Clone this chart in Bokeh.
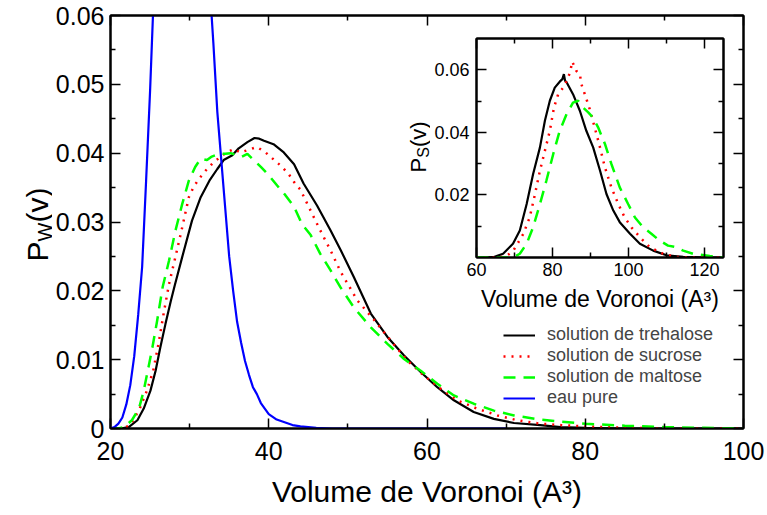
import math
from bokeh.plotting import figure
from bokeh.models import FixedTicker, LinearAxis, Legend, LegendItem, Range1d
from bokeh.core.properties import value
from bokeh.embed import file_html
from bokeh.resources import INLINE

FONT = "Liberation Sans"
FONT_VALUE = value(FONT)

# ---------------- data: main panel (water molecules) ----------------
x_ticks_main = [20, 40, 60, 80, 100]
x_minor_main = [30, 50, 70, 90]
y_ticks_main = [0, 0.01, 0.02, 0.03, 0.04, 0.05, 0.06]
y_minor_main = [0.005, 0.015, 0.025, 0.035, 0.045, 0.055]

treh_v = [20.0, 21.3, 22.3, 23.4, 24.2, 25.05, 25.7, 26.3, 26.95, 27.6, 28.1, 29.06, 30.3, 31.4,
          32.5, 33.5, 34.3, 35.4, 36.2, 37.3, 38.2, 38.8, 39.4, 40.6, 41.9, 43.2, 44.4, 46.1,
          47.8, 49.1, 50.75, 52.9, 55.0, 57.1, 59.2, 61.3, 63.4, 65.9, 68.45, 71.0, 74.3, 76.9,
          80.0, 85.0, 100.0]
treh_p = [0.0, 0.0, 0.0002, 0.0012, 0.0029, 0.0055, 0.0084, 0.0118, 0.0152, 0.0184, 0.0207,
          0.0249, 0.0302, 0.0336, 0.0360, 0.0377, 0.0390, 0.0397, 0.0407, 0.0416, 0.0422, 0.0421,
          0.0418, 0.0413, 0.0401, 0.0384, 0.0356, 0.0324, 0.0288, 0.0259, 0.0220, 0.0167, 0.0133,
          0.0106, 0.0082, 0.0060, 0.0041, 0.0024, 0.0014, 0.0008, 0.0005, 0.0002, 0.0001, 0.0,
          0.0]

sucr_v = [20.0, 21.5, 22.5, 23.7, 24.6, 25.4, 26.1, 26.7, 27.4, 28.2, 29.06, 29.9, 30.5, 31.2,
          32.2, 33.06, 34.5, 35.6, 36.4, 37.5, 38.5, 39.6, 40.4, 41.5, 42.5, 43.2, 44.0, 45.1,
          46.5, 47.8, 49.07, 51.2, 53.3, 55.4, 57.5, 59.6, 61.7, 63.8, 66.3, 68.9, 71.4, 74.3,
          76.9, 80.0, 85.0, 90.0, 100.0]
sucr_p = [0.0, 0.0, 0.0005, 0.0029, 0.0055, 0.0084, 0.0125, 0.0166, 0.0210, 0.0249, 0.0292,
          0.0336, 0.0351, 0.0363, 0.0377, 0.0387, 0.0400, 0.0406, 0.0401, 0.0405, 0.0409, 0.0401,
          0.0393, 0.0382, 0.0370, 0.0358, 0.0347, 0.0321, 0.0288, 0.0259, 0.0228, 0.0186, 0.0158,
          0.0128, 0.0099, 0.0077, 0.0058, 0.0041, 0.0029, 0.0019, 0.0012, 0.0007, 0.0005, 0.0003,
          0.0001, 0.0, 0.0]

malt_v = [20.0, 21.0, 21.7, 22.7, 23.6, 24.2, 24.8, 25.3, 25.9, 26.6, 27.4, 28.2, 29.06, 29.9,
          30.7, 31.4, 32.2, 32.8, 33.7, 34.5, 35.2, 36.0, 36.6, 37.3, 38.1, 39.0, 40.0, 41.06,
          42.1, 43.2, 44.2, 45.3, 46.5, 47.8, 49.07, 50.75, 52.9, 55.0, 57.1, 59.2, 61.3, 63.4,
          65.9, 68.45, 71.0, 74.3, 76.9, 80.0, 85.0, 90.0, 95.0, 100.0]
malt_p = [0.0, 0.0, 0.0002, 0.0012, 0.0029, 0.0055, 0.0089, 0.0118, 0.0157, 0.0206, 0.0244,
          0.0287, 0.0326, 0.0360, 0.0380, 0.0392, 0.0390, 0.0395, 0.0399, 0.0399, 0.0400, 0.0397,
          0.0395, 0.0399, 0.0390, 0.0380, 0.0368, 0.0353, 0.0339, 0.0322, 0.0297, 0.0281, 0.0254,
          0.0230, 0.0205, 0.0176, 0.0147, 0.0123, 0.0101, 0.0084, 0.0065, 0.0048, 0.0036, 0.0026,
          0.0019, 0.0013, 0.0010, 0.0007, 0.0004, 0.0002, 0.0001, 0.0]

eau_v = [20.0, 20.5, 21.0, 21.5, 22.0, 22.5, 23.0, 23.5, 24.0, 24.5, 25.0, 25.5, 26.0, 26.5,
         27.0, 28.0, 29.0, 30.0, 31.0, 32.0, 32.5, 33.0, 33.5, 34.0, 34.5, 35.0, 35.5, 36.0,
         36.5, 37.0, 37.5, 38.0, 38.5, 39.0, 40.0, 41.0, 42.0, 43.0, 44.0, 45.0, 46.0, 48.0,
         55.0, 70.0]
eau_p = [0.0, 0.0002, 0.0007, 0.0016, 0.0035, 0.0063, 0.0105, 0.0165, 0.0235, 0.036, 0.049,
         0.064, 0.078, 0.090, 0.100, 0.112, 0.116, 0.112, 0.098, 0.075, 0.065, 0.056, 0.046,
         0.039, 0.032, 0.025, 0.020, 0.0155, 0.0125, 0.0098, 0.0078, 0.006, 0.005, 0.0037,
         0.0021, 0.0013, 0.0009, 0.0005, 0.0003, 0.0002, 0.0001, 0.0, 0.0, 0.0]

# ---------------- data: inset (sugar molecules) ----------------
x_ticks_in = [60, 80, 100, 120]
x_minor_in = [70, 90, 110]
y_ticks_in = [0.02, 0.04, 0.06]
y_minor_in = [0.01, 0.03, 0.05]

treh_s_v = [60.0, 64.4, 67.0, 69.6, 71.4, 73.2, 74.9, 76.7, 78.0, 79.3, 80.6, 81.9, 82.6, 83.0,
            83.3, 83.7, 85.4, 87.2, 88.9, 90.7, 92.5, 94.2, 96.0, 97.7, 100.4, 103.0, 106.5,
            110.0, 114.4, 121.4, 125.0]
treh_s_p = [0.0, 0.0001, 0.0012, 0.0044, 0.0086, 0.0171, 0.0267, 0.0352, 0.0437, 0.0501, 0.0543,
            0.0562, 0.0570, 0.0586, 0.0565, 0.0560, 0.0522, 0.0469, 0.0405, 0.0352, 0.0278,
            0.0203, 0.0150, 0.0113, 0.0076, 0.0044, 0.0022, 0.0007, 0.0002, 0.0, 0.0]

sucr_s_v = [60.0, 66.0, 68.0, 69.6, 72.3, 74.0, 75.4, 76.7, 78.0, 79.3, 80.4, 81.5, 83.2, 84.6,
            85.2, 86.3, 87.2, 87.6, 88.5, 89.8, 91.1, 92.5, 93.8, 95.5, 97.3, 99.0, 100.8, 103.0,
            105.6, 109.1, 112.6, 117.0, 125.0]
sucr_s_p = [0.0, 0.0, 0.0006, 0.0020, 0.0075, 0.0128, 0.0203, 0.0278, 0.0341, 0.0405, 0.0480,
            0.0522, 0.0549, 0.0591, 0.0626, 0.0596, 0.0586, 0.0554, 0.0522, 0.0474, 0.0416,
            0.0352, 0.0288, 0.0224, 0.0171, 0.0128, 0.0096, 0.0065, 0.0033, 0.0012, 0.0002, 0.0,
            0.0]

malt_s_v = [60.0, 69.6, 71.4, 73.2, 74.9, 76.7, 78.4, 80.2, 81.9, 83.7, 85.4, 86.75, 88.1, 89.4,
            90.7, 92.0, 93.8, 95.5, 97.7, 99.9, 101.7, 103.9, 106.1, 108.2, 110.4, 112.6, 114.4,
            117.0, 121.4, 125.0]
malt_s_p = [0.0, 0.0, 0.0012, 0.0044, 0.0097, 0.0171, 0.0246, 0.0331, 0.0405, 0.0458, 0.0495,
            0.0501, 0.0479, 0.0464, 0.0447, 0.0416, 0.0363, 0.0299, 0.0224, 0.0171, 0.0128,
            0.0096, 0.0075, 0.0054, 0.0038, 0.0033, 0.0022, 0.0012, 0.0005, 0.0]

legend_labels = ["solution de trehalose", "solution de sucrose", "solution de maltose", "eau pure"]
x_title = "Volume de Voronoi (A\u00b3)"
y_title_main = ["P", "W", "(v)"]
y_title_inset = ["P", "S", "(v)"]


def style_axis(ax, ticks, minor, font_size, standoff, show_labels=True, tick_len=10, minor_len=5):
    ax.ticker = FixedTicker(ticks=ticks, minor_ticks=minor)
    ax.major_tick_in = tick_len
    ax.major_tick_out = 0
    ax.minor_tick_in = minor_len
    ax.minor_tick_out = 0
    ax.major_tick_line_width = 1.5
    ax.minor_tick_line_width = 1.5
    ax.major_tick_line_color = "black"
    ax.minor_tick_line_color = "black"
    ax.axis_line_width = 2
    ax.axis_line_color = "black"
    ax.major_label_text_font = FONT
    ax.major_label_standoff = standoff
    if show_labels:
        ax.major_label_text_font_size = font_size
        ax.major_label_text_color = "black"
    else:
        ax.major_label_text_font_size = "0px"
        ax.major_label_text_color = None
        ax.major_label_standoff = 0


def title_panel(left, top, w, h, pieces, sizes, xs, ys):
    """Small transparent figure overlaid on the page, holding a rotated axis title."""
    t = figure(width=w, height=h, x_range=Range1d(0, w), y_range=Range1d(0, h),
               output_backend="svg", toolbar_location=None, x_axis_type=None, y_axis_type=None,
               min_border=0, min_border_left=0, min_border_right=0, min_border_top=0,
               min_border_bottom=0)
    t.background_fill_color = None
    t.border_fill_color = None
    t.outline_line_color = None
    t.xgrid.visible = False
    t.ygrid.visible = False
    t.styles = {"position": "absolute", "left": f"{left}px", "top": f"{top}px"}
    for txt, sz, xx, yy in zip(pieces, sizes, xs, ys):
        t.text(x=[xx], y=[yy], text=[txt], angle=math.pi / 2, text_font=FONT_VALUE,
               text_font_size=sz, text_align="left", text_baseline="alphabetic",
               text_color="black")
    return t


# ---------------- main figure ----------------
p = figure(width=765, height=513, x_range=Range1d(20, 100), y_range=Range1d(0, 0.06),
           output_backend="svg", toolbar_location=None,
           min_border_left=110, min_border_right=22, min_border_top=15, min_border_bottom=85)
p.xgrid.visible = False
p.ygrid.visible = False
p.outline_line_color = "black"
p.outline_line_width = 2

style_axis(p.xaxis[0], x_ticks_main, x_minor_main, "25px", 13)
style_axis(p.yaxis[0], y_ticks_main, y_minor_main, "25px", 6)
p.yaxis[0].major_label_overrides = {0: "0"}
p.xaxis[0].axis_label = x_title
p.xaxis[0].axis_label_text_font = FONT
p.xaxis[0].axis_label_text_font_size = "30px"
p.xaxis[0].axis_label_text_font_style = "normal"
p.xaxis[0].axis_label_text_color = "black"
p.xaxis[0].axis_label_standoff = 12

top_ax = LinearAxis()
p.add_layout(top_ax, "above")
style_axis(top_ax, x_ticks_main, x_minor_main, "25px", 0, show_labels=False)
right_ax = LinearAxis()
p.add_layout(right_ax, "right")
style_axis(right_ax, y_ticks_main, y_minor_main, "25px", 0, show_labels=False)

r_treh = p.line(treh_v, treh_p, line_color="black", line_width=2.2)
r_sucr = p.line(sucr_v, sucr_p, line_color="#ff0000", line_width=2.5, line_dash="2 6")
r_malt = p.line(malt_v, malt_p, line_color="#00ff00", line_width=2.5, line_dash="12 8")
r_eau = p.line(eau_v, eau_p, line_color="#0000ff", line_width=2.2)

legend = Legend(items=[LegendItem(label=lab, renderers=[r]) for lab, r in
                       zip(legend_labels, [r_treh, r_sucr, r_malt, r_eau])],
                location=(393, 20), padding=0, margin=0, spacing=0,
                glyph_width=32, glyph_height=20, label_height=20, label_standoff=12,
                label_text_font=FONT, label_text_font_size="18px",
                border_line_alpha=0, background_fill_alpha=0)
p.add_layout(legend)

# ---------------- inset figure ----------------
q = figure(width=328, height=282, x_range=Range1d(60, 125), y_range=Range1d(0, 0.07),
           output_backend="svg", toolbar_location=None,
           min_border_left=76, min_border_right=5, min_border_top=5, min_border_bottom=58)
q.styles = {"position": "absolute", "left": "400px", "top": "33px"}
q.xgrid.visible = False
q.ygrid.visible = False
q.outline_line_color = "black"
q.outline_line_width = 2
style_axis(q.xaxis[0], x_ticks_in, x_minor_in, "18px", 5)
style_axis(q.yaxis[0], y_ticks_in, y_minor_in, "18px", 7)
q.xaxis[0].axis_label = x_title
q.xaxis[0].axis_label_text_font = FONT
q.xaxis[0].axis_label_text_font_size = "23px"
q.xaxis[0].axis_label_text_font_style = "normal"
q.xaxis[0].axis_label_text_color = "black"
q.xaxis[0].axis_label_standoff = 7
q_top = LinearAxis()
q.add_layout(q_top, "above")
style_axis(q_top, x_ticks_in, x_minor_in, "18px", 0, show_labels=False)
q_right = LinearAxis()
q.add_layout(q_right, "right")
style_axis(q_right, y_ticks_in, y_minor_in, "18px", 0, show_labels=False)

q.line(treh_s_v, treh_s_p, line_color="black", line_width=2.2)
q.line(sucr_s_v, sucr_s_p, line_color="#ff0000", line_width=2.5, line_dash="2 6")
q.line(malt_s_v, malt_s_p, line_color="#00ff00", line_width=2.5, line_dash="12 8")

# ---------------- rotated y titles P_W(v) and P_S(v) ----------------
t_main = title_panel(0, 160, 52, 120, y_title_main, ["30px", "20px", "30px"],
                     [37, 44, 37], [19, 39, 58])
t_inset = title_panel(392, 105, 38, 85, y_title_inset, ["22px", "16px", "22px"],
                      [26, 31, 26], [18, 32.7, 43.5])

open("out.html", "w").write(file_html([p, q, t_main, t_inset], INLINE))
